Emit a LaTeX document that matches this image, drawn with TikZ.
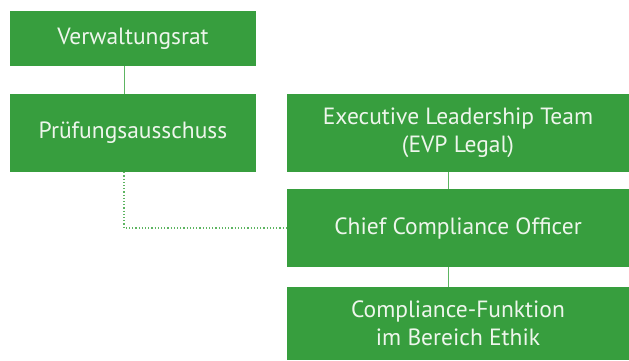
\documentclass[tikz,border=0pt]{standalone}
\usepackage{fontspec}
\setmainfont{PT Sans}
\usepackage{tikz}
\usetikzlibrary{calc,positioning}
\definecolor{boxgreen}{HTML}{379E3E}
\definecolor{linegreen}{HTML}{5DB562}
\definecolor{textwhite}{HTML}{EEF6EC}

\begin{document}
\begin{tikzpicture}[x=1pt,y=-1pt,
    orgbox/.style={fill=boxgreen,text=textwhite,inner sep=0pt,align=center,
      font=\fontsize{23.5}{28}\selectfont},
    wide/.style={orgbox,minimum width=246pt},
    wider/.style={orgbox,minimum width=342pt},
    link/.style={linegreen,line width=1pt},
    dotlink/.style={linegreen,line width=1.2pt,dotted}]
      \useasboundingbox (0,0) rectangle (629,360);
      % left column
      \node[wide,minimum height=55pt] (vr) at (133,38.5) {Verwaltungsrat};
      \node[wide,minimum height=78pt] (pa) at (133,133) {Prüfungsausschuss};
      % right column
      \node[wider,minimum height=78pt] (elt) at (458,133) {Executive Leadership Team\\(EVP Legal)};
      \node[wider,minimum height=78pt] (cco) at (458,228) {Chief Compliance Officer};
      \node[wider,minimum height=73pt] (cf) at (458,323.5) {Compliance-Funktion\\im Bereich Ethik};
      % lines
      \draw[link] ([xshift=-9pt]vr.south) -- ([xshift=-9pt]pa.north);
      \draw[link] ([xshift=-10pt]elt.south) -- ([xshift=-10pt]cco.north);
      \draw[link] ([xshift=-10pt]cco.south) -- ([xshift=-10pt]cf.north);
      \draw[dotlink] ([xshift=-9pt]pa.south) |- (cco.west);
    \end{tikzpicture}
\end{document}
